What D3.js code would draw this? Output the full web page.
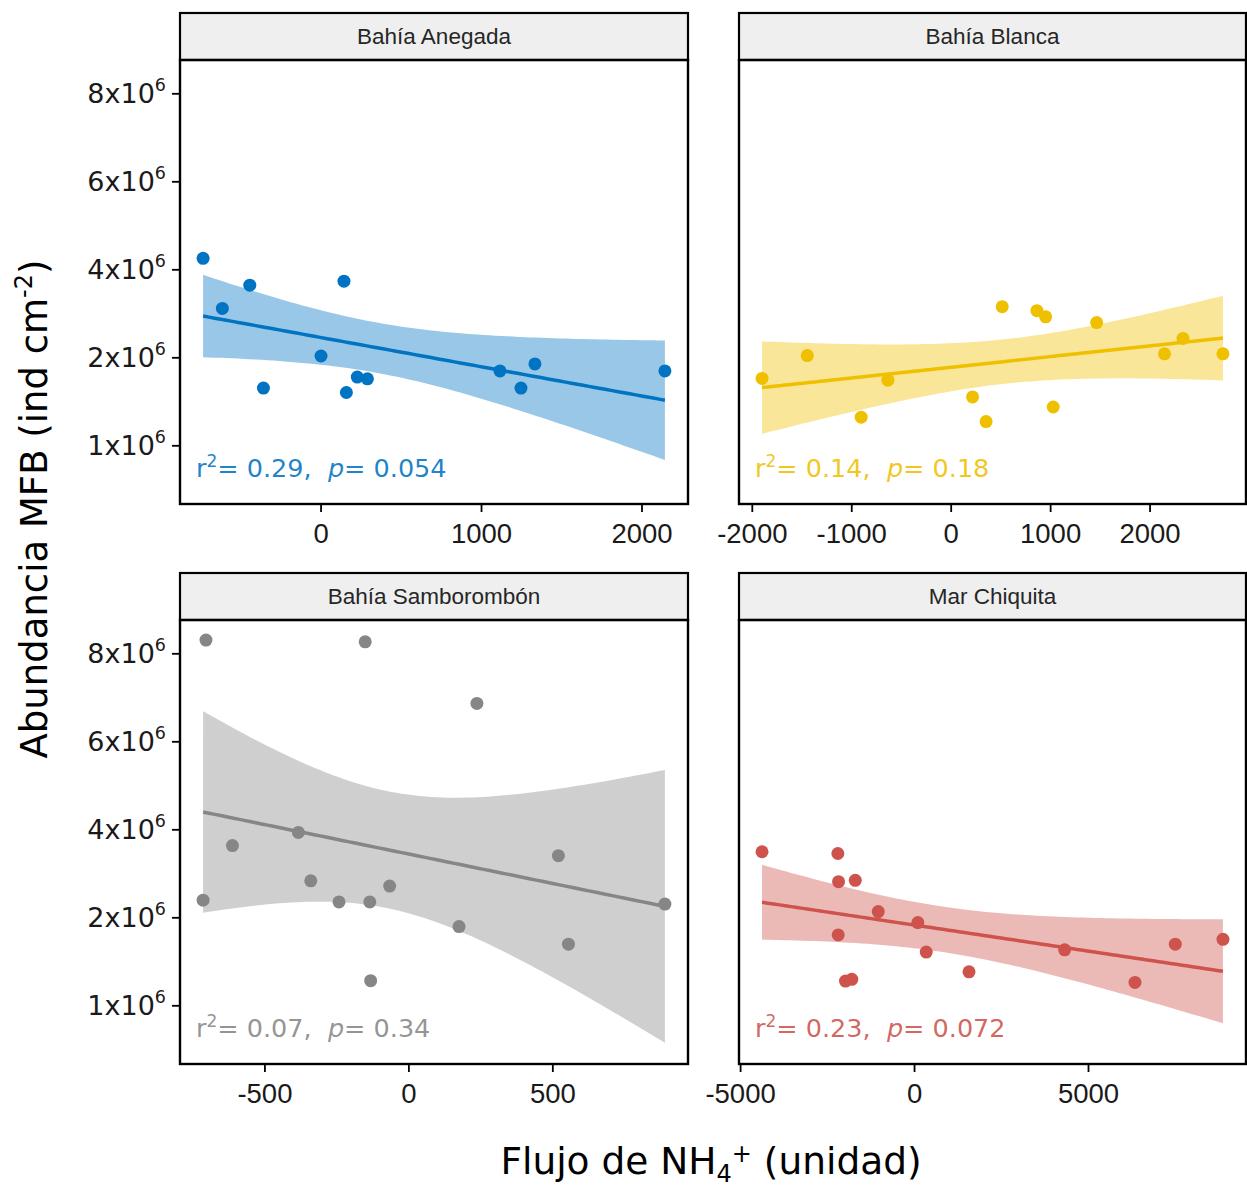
<!DOCTYPE html>
<html>
<head>
<meta charset="utf-8">
<script src="https://cdn.jsdelivr.net/npm/d3@7"></script>
<style>
  body { margin: 0; background: #fff; }
</style>
</head>
<body>
<div class="canvas"></div>
<script>
// sites (facets) and their colours
const sites = ['Bahía Anegada', 'Bahía Blanca', 'Bahía Samborombón', 'Mar Chiquita']
const colors = ['#0073C2', '#EFC000', '#868686', '#CD534C']

// NH4+ flux (x) and MFB abundance (y) per site
const anegadaX = [-732, -612, -441, -356, 3, 146, 161, 229, 292, 1118, 1249, 1336, 2146]
const anegadaY = [4.25e6, 3.11e6, 3.64e6, 1.30e6, 2.03e6, 3.73e6, 1.20e6, 1.55e6, 1.51e6, 1.69e6, 1.30e6, 1.85e6, 1.69e6]

const blancaX = [-1897, -1442, -900, -631, 220, 356, 518, 867, 955, 1031, 1468, 2150, 2336, 2738]
const blancaY = [1.52e6, 2.04e6, 0.64e6, 1.48e6, 1.10e6, 0.54e6, 3.15e6, 3.06e6, 2.92e6, 0.87e6, 2.79e6, 2.08e6, 2.43e6, 2.08e6]

const samboX = [-703, -150, -382, -611, -713, -339, -241, -134, -65, -131, 238, 521, 176, 556, 891]
const samboY = [8.30e6, 8.26e6, 3.93e6, 3.63e6, 2.39e6, 2.83e6, 2.35e6, 2.35e6, 2.71e6, 0.56e6, 6.86e6, 3.40e6, 1.79e6, 1.39e6, 2.30e6]

const chiquitaX = [-4369, -2190, -2170, -1689, -1029, 109, -2180, 350, 1580, -1970, -1789, 4329, 6350, 7509, 8879]
const chiquitaY = [3.49e6, 3.45e6, 2.81e6, 2.84e6, 2.13e6, 1.88e6, 1.60e6, 1.21e6, 0.76e6, 0.55e6, 0.59e6, 1.26e6, 0.52e6, 1.39e6, 1.50e6]

// regression labels
const r2Labels = ['0.29', '0.14', '0.07', '0.23']
const pLabels = ['0.054', '0.18', '0.34', '0.072']

// tick values / labels
const xTicks = [[0, 1000, 2000], [-2000, -1000, 0, 1000, 2000], [-500, 0, 500], [-5000, 0, 5000]]
const yTickValues = [0, 2e6, 4e6, 6e6, 8e6]
const yTickMantissa = ['1', '2', '4', '6', '8']
const yTickExponent = '6'

const xsAll = [anegadaX, blancaX, samboX, chiquitaX]
const ysAll = [anegadaY, blancaY, samboY, chiquitaY]

// t quantiles (0.975) by degrees of freedom
const t975 = { 9: 2.262, 10: 2.228, 11: 2.201, 12: 2.179, 13: 2.160, 14: 2.145, 15: 2.131 }

const svg = d3.select('.canvas').append('svg').attr('width', 1247).attr('height', 1187)
svg.append('rect').attr('width', 1247).attr('height', 1187).attr('fill', '#fff')

const colX = [180, 739]
const colW = [508, 507]
const rowY = [13, 573]
const stripH = 47
const plotH = 444

const y = d3.scaleLinear().domain([-1.334e6, 8.757e6]).range([plotH, 0])

function fit(xs, ys) {
    const n = xs.length
    const mx = d3.mean(xs), my = d3.mean(ys)
    let sxx = 0, sxy = 0, syy = 0
    xs.forEach((xv, i) => {
        sxx += (xv - mx) ** 2
        sxy += (xv - mx) * (ys[i] - my)
        syy += (ys[i] - my) ** 2
    })
    const b = sxy / sxx, a = my - b * mx
    const s = Math.sqrt((syy - b * sxy) / (n - 2))
    const t = t975[n - 2]
    const [x0, x1] = d3.extent(xs)
    return d3.range(80).map(i => {
        const xv = x0 + (x1 - x0) * i / 79
        const fitv = a + b * xv
        const se = s * Math.sqrt(1 / n + (xv - mx) ** 2 / sxx)
        return { x: xv, y: fitv, lo: fitv - t * se, hi: fitv + t * se }
    })
}

sites.forEach((site, k) => {
    const col = k % 2, row = Math.floor(k / 2)
    const w = colW[col]
    const xs = xsAll[k], ys = ysAll[k]
    const color = colors[k]

    const ext = d3.extent(xs)
    const pad = (ext[1] - ext[0]) * 0.05
    const x = d3.scaleLinear().domain([ext[0] - pad, ext[1] + pad]).range([0, w])

    const panel = svg.append('g').attr('transform', `translate(${colX[col]}, ${rowY[row]})`)

    // strip
    panel.append('rect').attr('width', w).attr('height', stripH)
        .attr('fill', '#efefef').attr('stroke', '#000').attr('stroke-width', 2.2)
    panel.append('text').attr('x', w / 2).attr('y', stripH / 2 + 7.5)
        .attr('text-anchor', 'middle').attr('font-family', 'Liberation Sans, Arial, sans-serif')
        .attr('font-size', 22.5).attr('fill', '#262626').text(site)

    const graph = panel.append('g').attr('transform', `translate(0, ${stripH})`)

    // smooth band + line
    const smooth = fit(xs, ys)
    graph.append('path').datum(smooth)
        .attr('d', d3.area().x(d => x(d.x)).y0(d => y(d.lo)).y1(d => y(d.hi)))
        .attr('fill', color).attr('fill-opacity', 0.4)
    graph.append('path').datum(smooth)
        .attr('d', d3.line().x(d => x(d.x)).y(d => y(d.y)))
        .attr('fill', 'none').attr('stroke', color).attr('stroke-width', 3.5)

    // points
    graph.selectAll('circle').data(xs.map((xv, i) => ({ x: xv, y: ys[i] })))
        .enter().append('circle')
        .attr('cx', d => x(d.x)).attr('cy', d => y(d.y)).attr('r', 6.5)
        .attr('fill', color)

    // stats label
    const lab = graph.append('text').attr('x', 16).attr('y', plotH - 27)
        .attr('font-family', 'DejaVu Sans, sans-serif').attr('font-size', 25.5)
        .attr('fill', color).attr('fill-opacity', 0.88)
    lab.append('tspan').text('r')
    lab.append('tspan').attr('dy', -10).attr('font-size', 17).text('2')
    lab.append('tspan').attr('dy', 10).text(`= ${r2Labels[k]},\u00a0\u00a0`)
    lab.append('tspan').attr('font-style', 'italic').text('p')
    lab.append('tspan').text(`= ${pLabels[k]}`)

    // panel border
    graph.append('rect').attr('width', w).attr('height', plotH)
        .attr('fill', 'none').attr('stroke', '#000').attr('stroke-width', 2.4)

    // x axis
    const xAxisGroup = graph.append('g').attr('transform', `translate(0, ${plotH})`)
    xAxisGroup.call(d3.axisBottom(x).tickValues(xTicks[k]).tickSize(8).tickFormat(d => String(d)))
    xAxisGroup.select('.domain').remove()
    xAxisGroup.selectAll('line').attr('stroke', '#000').attr('stroke-width', 1.8)
    xAxisGroup.selectAll('text').attr('y', 39).attr('dy', 0)
        .attr('font-family', 'Liberation Sans, Arial, sans-serif').attr('font-size', 27.5).attr('fill', '#1a1a1a')

    // y axis only on left column
    if (col === 0) {
        const yAxisGroup = graph.append('g')
        yAxisGroup.call(d3.axisLeft(y).tickValues(yTickValues).tickSize(8).tickFormat(''))
        yAxisGroup.select('.domain').remove()
        yAxisGroup.selectAll('line').attr('stroke', '#000').attr('stroke-width', 1.8)
        yAxisGroup.selectAll('.tick text').remove()
        yAxisGroup.selectAll('.tick').each(function (d, i) {
            const t = d3.select(this).append('text').attr('x', -14).attr('y', 0)
                .attr('text-anchor', 'end').attr('font-family', 'DejaVu Sans, sans-serif')
                .attr('font-size', 27).attr('fill', '#1a1a1a')
            t.append('tspan').attr('dy', 9.5).text(`${yTickMantissa[i]}x10`)
            t.append('tspan').attr('dy', -12).attr('font-size', 17.5).text(yTickExponent)
        })
    }
})

// axis titles
const yTitle = svg.append('text').attr('transform', 'translate(47, 509) rotate(-90)')
    .attr('text-anchor', 'middle').attr('font-family', 'DejaVu Sans, sans-serif')
    .attr('font-size', 37).attr('fill', '#000')
yTitle.append('tspan').text('Abundancia MFB (ind cm')
yTitle.append('tspan').attr('dy', -15).attr('font-size', 24).text('-2')
yTitle.append('tspan').attr('dy', 15).text(')')

const xTitle = svg.append('text').attr('x', 711).attr('y', 1174)
    .attr('text-anchor', 'middle').attr('font-family', 'DejaVu Sans, sans-serif')
    .attr('font-size', 37.5).attr('fill', '#000')
xTitle.append('tspan').text('Flujo de NH')
xTitle.append('tspan').attr('dy', 8).attr('font-size', 24).text('4')
xTitle.append('tspan').attr('dy', -20).attr('font-size', 24).text('+')
xTitle.append('tspan').attr('dy', 12).text(' (unidad)')
</script>
</body>
</html>
